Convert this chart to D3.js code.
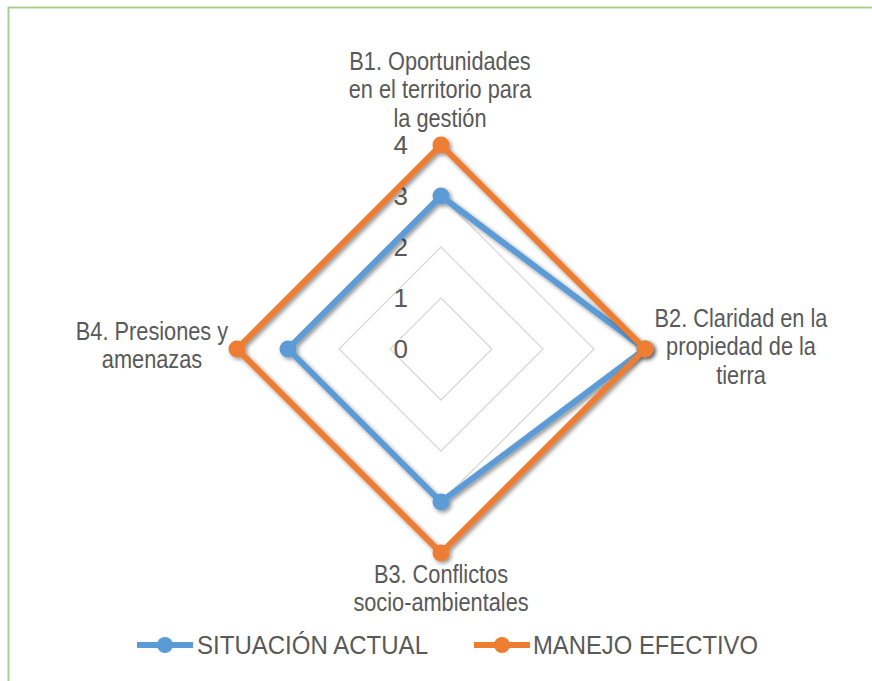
<!DOCTYPE html>
<html>
<head>
<meta charset="utf-8">
<script src="https://cdn.jsdelivr.net/npm/d3@7"></script>
<style>
  html, body { margin: 0; padding: 0; background: #fff; }
  svg { display: block; }
  text { font-family: "Liberation Sans", Arial, sans-serif; fill: #595959; }
</style>
</head>
<body>
<svg id="chart" width="872" height="681"></svg>
<script>
// ---- data ----
const categories = [
  ["B1. Oportunidades", "en el territorio para", "la gestión"],
  ["B2. Claridad en la", "propiedad de la", "tierra"],
  ["B3. Conflictos", "socio-ambientales"],
  ["B4. Presiones y", "amenazas"]
];
const seriesNames = ["SITUACIÓN ACTUAL", "MANEJO EFECTIVO"];
const situacionActual = [3, 4, 3, 3];
const manejoEfectivo = [4, 4, 4, 4];
const tickValues = [0, 1, 2, 3, 4];
const colors = ["#5b9bd5", "#ed7d31"];

// ---- layout ----
const svg = d3.select("#chart");
const cx = 441, cy = 349;
const r = d3.scaleLinear().domain([0, 4]).range([0, 204]);
const angle = d3.scaleLinear().domain([0, categories.length]).range([0, 2 * Math.PI]);
const pt = (i, v) => {
  const a = angle(i);
  return [cx + r(v) * Math.sin(a), cy - r(v) * Math.cos(a)];
};

// border
svg.append("path")
  .attr("d", "M8.5,681 L8.5,7.5 L872,7.5")
  .attr("fill", "none").attr("stroke", "#a9d18e").attr("stroke-width", 2);

// shadow filter
const defs = svg.append("defs");
const f = defs.append("filter").attr("id", "shadow")
  .attr("x", "-20%").attr("y", "-20%").attr("width", "140%").attr("height", "140%");
f.append("feGaussianBlur").attr("in", "SourceAlpha").attr("stdDeviation", 2).attr("result", "blur");
f.append("feOffset").attr("in", "blur").attr("dx", 2).attr("dy", 2).attr("result", "off");
f.append("feComponentTransfer").attr("in", "off").attr("result", "sh")
  .append("feFuncA").attr("type", "linear").attr("slope", 0.45);
const m = f.append("feMerge");
m.append("feMergeNode").attr("in", "sh");
m.append("feMergeNode").attr("in", "SourceGraphic");

// grid
const line = d3.line().curve(d3.curveLinearClosed);
svg.append("g").selectAll("path")
  .data(tickValues.filter(v => v > 0))
  .join("path")
  .attr("d", v => line(categories.map((c, i) => pt(i, v))))
  .attr("fill", "none").attr("stroke", "#d9d9d9").attr("stroke-width", 1.3);

// tick labels
svg.append("g").selectAll("text")
  .data(tickValues)
  .join("text")
  .attr("x", 408)
  .attr("y", v => cy - r(v))
  .attr("dy", "0.35em")
  .attr("text-anchor", "end")
  .attr("font-size", 26)
  .text(v => v);

// series
const allSeries = [situacionActual, manejoEfectivo];
allSeries.forEach((vals, s) => {
  const g = svg.append("g").attr("filter", "url(#shadow)");
  g.append("path")
    .attr("d", line(vals.map((v, i) => pt(i, v))))
    .attr("fill", "none").attr("stroke", colors[s]).attr("stroke-width", 6)
    .attr("stroke-linejoin", "miter");
  g.selectAll("circle").data(vals).join("circle")
    .attr("cx", (v, i) => pt(i, v)[0])
    .attr("cy", (v, i) => pt(i, v)[1])
    .attr("r", 8.5)
    .attr("fill", colors[s]);
});

// category labels
const labelPos = [
  { x: 440, y: 70, anchor: "middle" },
  { x: 741, y: 327, anchor: "middle" },
  { x: 441, y: 583, anchor: "middle" },
  { x: 152, y: 340, anchor: "middle" }
];
const lh = 28.5;
categories.forEach((lines, i) => {
  const p = labelPos[i];
  const g = svg.append("g").attr("transform", `translate(${p.x},${p.y}) scale(0.87,1)`);
  lines.forEach((t, k) => {
    g.append("text").attr("x", 0).attr("y", k * lh)
      .attr("text-anchor", p.anchor).attr("font-size", 25).text(t);
  });
});

// legend
const legend = [
  { x1: 137, x2: 193, tx: 197, tw: 231 },
  { x1: 474, x2: 530, tx: 533, tw: 225 }
];
const ly = 645;
legend.forEach((L, s) => {
  const g = svg.append("g");
  g.append("line").attr("x1", L.x1).attr("x2", L.x2).attr("y1", ly).attr("y2", ly)
    .attr("stroke", colors[s]).attr("stroke-width", 6);
  g.append("circle").attr("cx", (L.x1 + L.x2) / 2).attr("cy", ly).attr("r", 8).attr("fill", colors[s]);
  g.append("text").attr("x", L.tx).attr("y", 653.5).attr("font-size", 26)
    .attr("textLength", L.tw).attr("lengthAdjust", "spacingAndGlyphs")
    .text(seriesNames[s]);
});
</script>
</body>
</html>
